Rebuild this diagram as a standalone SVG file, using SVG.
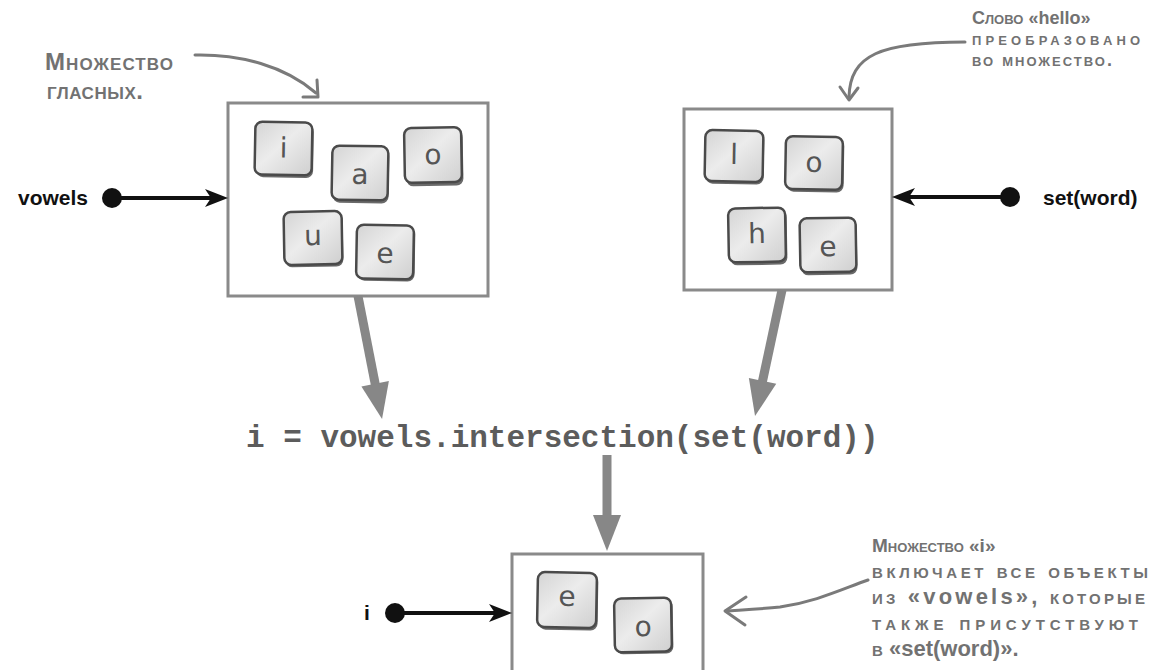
<svg xmlns="http://www.w3.org/2000/svg" width="1151" height="670" viewBox="0 0 1151 670">
<defs>
<style>
.box{fill:#fff;stroke:#8a8a8a;stroke-width:3}
.tile .sh{fill:#6a6a6a}
.tile .tb{fill:url(#tg);stroke:#4a4a4a;stroke-width:2.5}
.tile text{font-family:"DejaVu Sans","Noto Sans",sans-serif;font-size:28px;fill:#555;text-anchor:middle}
.lbl{font-family:"Liberation Sans",Arial,sans-serif;font-weight:bold;font-size:21px;fill:#111}
.note{font-family:"Liberation Sans",Arial,sans-serif;font-weight:bold;font-variant:small-caps;fill:#727272}
.note .lat{font-variant:normal}
.n1{font-size:24px}
.n2{font-size:18px}
.n3{font-size:22px}
.n4{font-size:19px}
.code{font-family:"Liberation Mono","Courier New",monospace;font-weight:bold;font-size:31px;fill:#5c5c5c}
.ptr{stroke:#111;stroke-width:4;fill:none}
.dot{fill:#111}
.flow{stroke:#878787;stroke-width:9;fill:none}
.hand{fill:none;stroke:#7a7a7a;stroke-width:3;stroke-linecap:round;stroke-linejoin:round}
</style>
<linearGradient id="tg" x1="0" y1="0" x2="1" y2="1">
<stop offset="0" stop-color="#d4d4d4"/><stop offset="0.45" stop-color="#ececec"/><stop offset="1" stop-color="#cfcfcf"/>
</linearGradient>
<marker id="ah" markerUnits="userSpaceOnUse" markerWidth="26" markerHeight="20" refX="15" refY="9" orient="auto" overflow="visible">
<path d="M0,0 L23,9 L0,18 L6,9 Z" fill="#111"/>
</marker>
<marker id="gh" markerUnits="userSpaceOnUse" markerWidth="40" markerHeight="30" refX="6" refY="14" orient="auto" overflow="visible">
<path d="M0,0 L36,14 L0,28 Z" fill="#878787"/>
</marker>
</defs>

<g id="vowels-box">
<rect class="box" x="228" y="103" width="260" height="193"/>
<g class="tile" transform="translate(283.5,148.5) rotate(1)"><rect class="sh" x="-27" y="-24" width="57" height="53" rx="7"/><rect class="tb" x="-28.5" y="-26.5" width="57" height="53" rx="7"/><text y="9">i</text></g>
<g class="tile" transform="translate(360,173) rotate(1)"><rect class="sh" x="-27" y="-24" width="56" height="54" rx="7"/><rect class="tb" x="-28" y="-27" width="56" height="54" rx="7"/><text y="11">a</text></g>
<g class="tile" transform="translate(433,155) rotate(-1)"><rect class="sh" x="-27" y="-24" width="57" height="55" rx="7"/><rect class="tb" x="-28.5" y="-27.5" width="57" height="55" rx="7"/><text y="9">o</text></g>
<g class="tile" transform="translate(313,238) rotate(-1)"><rect class="sh" x="-28" y="-24" width="58" height="53" rx="7"/><rect class="tb" x="-29" y="-26.5" width="58" height="53" rx="7"/><text y="7">u</text></g>
<g class="tile" transform="translate(385,252) rotate(1)"><rect class="sh" x="-27" y="-25" width="57" height="54" rx="7"/><rect class="tb" x="-28.5" y="-27" width="57" height="54" rx="7"/><text y="11">e</text></g>
</g>

<g id="word-box">
<rect class="box" x="684" y="109" width="208" height="181"/>
<g class="tile" transform="translate(734,156) rotate(1)"><rect class="sh" x="-28" y="-23" width="58" height="51" rx="7"/><rect class="tb" x="-29" y="-25.5" width="58" height="51" rx="7"/><text y="8">l</text></g>
<g class="tile" transform="translate(814,163) rotate(1)"><rect class="sh" x="-27" y="-24" width="57" height="53" rx="7"/><rect class="tb" x="-28.5" y="-26.5" width="57" height="53" rx="7"/><text y="9">o</text></g>
<g class="tile" transform="translate(757,235) rotate(-1)"><rect class="sh" x="-27" y="-24" width="57" height="54" rx="7"/><rect class="tb" x="-28.5" y="-27" width="57" height="54" rx="7"/><text y="8">h</text></g>
<g class="tile" transform="translate(828,245) rotate(-1)"><rect class="sh" x="-27" y="-24" width="56" height="54" rx="7"/><rect class="tb" x="-28" y="-27" width="56" height="54" rx="7"/><text y="11">e</text></g>
</g>

<g id="result-box">
<rect class="box" x="512" y="554" width="191" height="130"/>
<g class="tile" transform="translate(567,600) rotate(1)"><rect class="sh" x="-28" y="-25" width="59" height="55" rx="7"/><rect class="tb" x="-29.5" y="-27.5" width="59" height="55" rx="7"/><text y="6">e</text></g>
<g class="tile" transform="translate(643,625) rotate(-1)"><rect class="sh" x="-27" y="-25" width="57" height="54" rx="7"/><rect class="tb" x="-28.5" y="-27" width="57" height="54" rx="7"/><text y="11">o</text></g>
</g>

<g id="labels">
<text class="lbl" x="88" y="205" text-anchor="end">vowels</text>
<text class="lbl" x="1043" y="205">set(word)</text>
<text class="lbl" x="367" y="620" text-anchor="middle">i</text>
</g>

<g id="code">
<text class="code" x="246" y="447">i = vowels.intersection(set(word))</text>
</g>

<g id="notes">
<text class="note n1" x="45" y="70" textLength="128" lengthAdjust="spacing">Множество</text>
<text class="note n1" x="47" y="99" textLength="96" lengthAdjust="spacing">гласных.</text>
<text class="note n2" x="972" y="24">Слово «<tspan class="lat">hello</tspan>»</text>
<text class="note n2" x="972" y="45" textLength="168" lengthAdjust="spacing">преобразовано</text>
<text class="note n2" x="972" y="66" textLength="140" lengthAdjust="spacing">во множество.</text>
<text class="note n4" x="872" y="552">Множество «<tspan class="lat">i</tspan>»</text>
<text class="note n3" x="872" y="578" textLength="276" lengthAdjust="spacing">включает все объекты</text>
<text class="note n3" x="872" y="604" textLength="273" lengthAdjust="spacing">из «<tspan class="lat">vowels</tspan>», которые</text>
<text class="note n3" x="872" y="630" textLength="266" lengthAdjust="spacing">также присутствуют</text>
<text class="note n3" x="872" y="656">в «<tspan class="lat">set(word)</tspan>».</text>
</g>

<g id="connectors">
<circle class="dot" cx="112" cy="198" r="10"/>
<line class="ptr" x1="112" y1="198" x2="220" y2="198" marker-end="url(#ah)"/>
<circle class="dot" cx="1010" cy="197" r="10"/>
<line class="ptr" x1="1010" y1="197" x2="900" y2="197" marker-end="url(#ah)"/>
<circle class="dot" cx="395" cy="613" r="10"/>
<line class="ptr" x1="395" y1="613" x2="504" y2="613" marker-end="url(#ah)"/>
<line class="flow" x1="358" y1="296" x2="376.3" y2="389.6" marker-end="url(#gh)"/>
<line class="flow" x1="782" y1="290" x2="761.3" y2="386.7" marker-end="url(#gh)"/>
<line class="flow" x1="607" y1="455" x2="607" y2="521" marker-end="url(#gh)"/>
<path class="hand" d="M195,55 C240,54 285,66 316,93"/>
<path class="hand" d="M317,80 L318,97 L303,97"/>
<path class="hand" d="M965,42 C880,42 850,55 849,97"/>
<path class="hand" d="M840,87 L849,100 L858,88"/>
<path class="hand" d="M868,580 C840,590 815,602 780,607 C760,609 740,610 726,611"/>
<path class="hand" d="M746,597 L725,611 L745,625"/>
</g>
</svg>
